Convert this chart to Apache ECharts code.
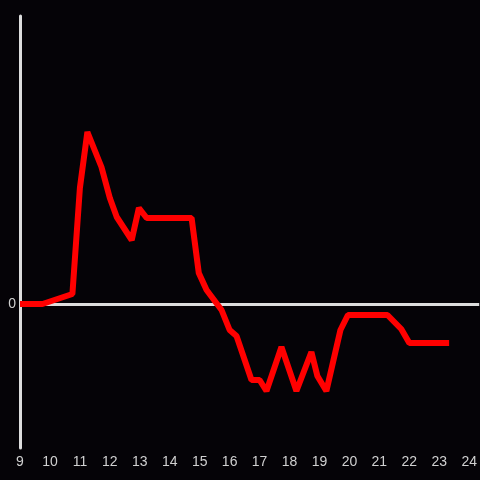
<!DOCTYPE html>
<html>
<head>
<meta charset="utf-8">
<script src="https://cdn.jsdelivr.net/npm/echarts@6/dist/echarts.min.js"></script>
<style>
html,body{margin:0;padding:0;background:#050307;}
#c{width:480px;height:480px;}
</style>
</head>
<body>
<div id="c"></div>
<script>
var hours = [9, 9.75, 10.75, 11, 11.25, 11.72, 12, 12.23, 12.73, 12.97, 13.23, 14.73, 14.97, 15.23, 15.73, 16, 16.23, 16.73, 17, 17.23, 17.73, 18.23, 18.73, 18.93, 19.23, 19.7, 19.95, 21.27, 21.73, 22, 23.33];
var values = [0, 0, 10, 116, 172, 137, 106, 87, 64, 96, 86, 86, 31, 14, -6, -26, -32, -76, -76, -87, -43, -87, -48, -72, -87, -26, -11, -11, -25, -39, -39];
var xTicks = [9, 10, 11, 12, 13, 14, 15, 16, 17, 18, 19, 20, 21, 22, 23, 24];
var yTicks = [0];

var points = hours.map(function (h, i) { return [h, values[i]]; });
var chart = echarts.init(document.getElementById('c'));
chart.setOption({
  backgroundColor: '#050307',
  animation: false,
  grid: { left: 20, right: 0, top: 16, bottom: 32, containLabel: false },
  xAxis: {
    type: 'value', min: 9, max: 24.3333, interval: 1,
    axisLine: { show: false, onZero: false },
    axisTick: { show: false },
    splitLine: { show: false },
    axisLabel: {
      color: '#d0d0d0', fontSize: 14, fontFamily: 'Liberation Sans, Arial, sans-serif', margin: 7,
      showMaxLabel: false,
      formatter: function (v) { return xTicks.indexOf(v) >= 0 ? String(v) : ''; }
    }
  },
  yAxis: {
    type: 'value', min: -144, max: 288, interval: 144,
    axisLine: { show: true, lineStyle: { color: '#dddddd', width: 3 } },
    axisTick: { show: false },
    splitLine: { show: false },
    axisLabel: {
      color: '#d0d0d0', fontSize: 14, fontFamily: 'Liberation Sans, Arial, sans-serif', margin: 4,
      formatter: function (v) { return yTicks.indexOf(v) >= 0 ? String(v) : ''; }
    }
  },
  series: [{
    type: 'line',
    data: points,
    showSymbol: false,
    lineStyle: { color: '#ff0000', width: 6 },
    z: 5,
    markLine: {
      silent: true,
      symbol: 'none',
      z: 1,
      label: { show: false },
      lineStyle: { color: '#dddddd', width: 3, type: 'solid' },
      data: [{ yAxis: 0 }]
    }
  }]
});
</script>
</body>
</html>
